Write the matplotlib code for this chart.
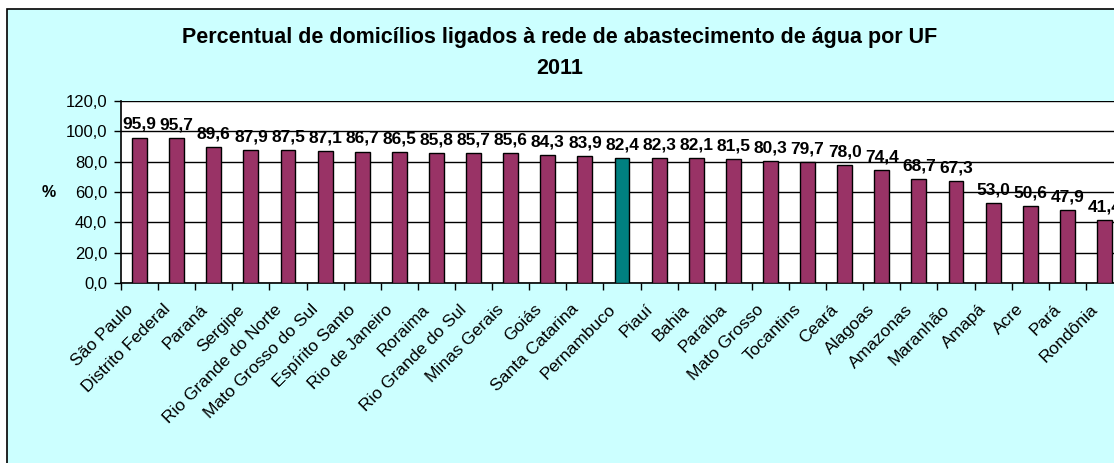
import numpy as np
import matplotlib.pyplot as plt
from matplotlib.patches import Rectangle
from matplotlib.transforms import ScaledTranslation

plt.rcParams['font.family'] = ['Liberation Sans', 'DejaVu Sans']

ufs = ["São Paulo", "Distrito Federal", "Paraná", "Sergipe", "Rio Grande do Norte",
       "Mato Grosso do Sul", "Espírito Santo", "Rio de Janeiro", "Roraima",
       "Rio Grande do Sul", "Minas Gerais", "Goiás", "Santa Catarina", "Pernambuco",
       "Piauí", "Bahia", "Paraíba", "Mato Grosso", "Tocantins", "Ceará", "Alagoas",
       "Amazonas", "Maranhão", "Amapá", "Acre", "Pará", "Rondônia"]
valores = [95.9, 95.7, 89.6, 87.9, 87.5, 87.1, 86.7, 86.5, 85.8, 85.7, 85.6, 84.3,
           83.9, 82.4, 82.3, 82.1, 81.5, 80.3, 79.7, 78.0, 74.4, 68.7, 67.3, 53.0,
           50.6, 47.9, 41.4]
destaque = "Pernambuco"
yticks = [0, 20, 40, 60, 80, 100, 120]

W, H = 1114, 463
fig = plt.figure(figsize=(W / 100, H / 100), dpi=100)
fig.patch.set_facecolor('white')

# moldura do gráfico (estilo Excel), cortada à direita e embaixo
fig.patches.append(Rectangle((7 / W, -0.1), 1.2, 1 - 9 / H + 0.1, transform=fig.transFigure,
                             facecolor='#CCFFFF', edgecolor='black', linewidth=1.2, zorder=-5))

left, right, top, bottom = 121, 1123, 101, 283
ax = fig.add_axes([left / W, 1 - bottom / H, (right - left) / W, (bottom - top) / H])
ax.set_facecolor('white')

x = np.arange(len(ufs))
cores = ['#008080' if u == destaque else '#993366' for u in ufs]
ax.bar(x, valores, width=0.4, color=cores, edgecolor='black', linewidth=1, zorder=3)

for xi, v in zip(x, valores):
    ax.annotate(f"{v:.1f}".replace('.', ','), (xi, v), xytext=(0, 4), textcoords='offset points',
                ha='center', va='bottom', fontsize=12.5, fontweight='bold', zorder=4,
                annotation_clip=False)

ax.set_xlim(-0.5, len(ufs) - 0.5)
ax.set_ylim(0, 120)
ax.set_yticks(yticks)
ax.set_yticklabels([f"{t:.1f}".replace('.', ',') for t in yticks], fontsize=12)
ax.yaxis.grid(True, color='black', linewidth=1, zorder=0)
ax.set_axisbelow(True)

# marcas entre as categorias, rótulos inclinados como no Excel
ax.set_xticks(np.arange(-0.5, len(ufs), 1))
ax.set_xticklabels([])
ax.tick_params(axis='x', length=5, width=1, direction='out')
ax.tick_params(axis='y', length=5, width=1, direction='out', pad=5)

desloc = ScaledTranslation(-9 / 100, -24 / 100, fig.dpi_scale_trans)
for xi, nome in zip(x, ufs):
    ax.text(xi, 0, nome, transform=ax.get_xaxis_transform() + desloc,
            rotation=45, ha='right', va='center', rotation_mode='anchor',
            fontsize=12.5, clip_on=False)

for s in ['top', 'right']:
    ax.spines[s].set_visible(False)
ax.spines['left'].set_linewidth(1.2)
ax.spines['bottom'].set_linewidth(1.2)

ax.set_ylabel('%', rotation=0, fontsize=11.5, fontweight='bold', labelpad=12, va='center')

fig.text(560 / W, 1 - 37 / H, "Percentual de domicílios ligados à rede de abastecimento de água por UF",
         ha='center', va='center', fontsize=15.5, fontweight='bold')
fig.text(560 / W, 1 - 68 / H, "2011", ha='center', va='center', fontsize=15.5, fontweight='bold')

fig.savefig('out.png', dpi=100)
